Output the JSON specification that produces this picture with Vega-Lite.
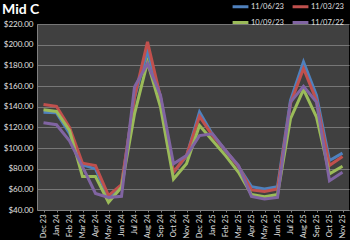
{
  "$schema": "https://vega.github.io/schema/vega-lite/v6.json",
  "width": 312,
  "height": 186,
  "autosize": {"type": "none"},
  "padding": {"left": 37, "top": 24, "right": 1, "bottom": 30},
  "background": "#000000",
  "title": {"text": "Mid C", "anchor": "start", "frame": "group", "dx": -35, "offset": 0, "dy": 20, "color": "#ffffff", "fontSize": 14, "font": "Lato", "fontWeight": "bold"},
  "config": {
    "view": {"fill": "#404040", "stroke": null},
    "font": "Lato"
  },
  "datasets": {
    "prices": [
      {"month": "Dec-23", "series": "11/06/23", "price": 134.5},
      {"month": "Jan-24", "series": "11/06/23", "price": 134},
      {"month": "Feb-24", "series": "11/06/23", "price": 114},
      {"month": "Mar-24", "series": "11/06/23", "price": 83.7},
      {"month": "Apr-24", "series": "11/06/23", "price": 79.8},
      {"month": "May-24", "series": "11/06/23", "price": 52.2},
      {"month": "Jun-24", "series": "11/06/23", "price": 63.6},
      {"month": "Jul-24", "series": "11/06/23", "price": 149},
      {"month": "Aug-24", "series": "11/06/23", "price": 194},
      {"month": "Sep-24", "series": "11/06/23", "price": 149},
      {"month": "Oct-24", "series": "11/06/23", "price": 76.5},
      {"month": "Nov-24", "series": "11/06/23", "price": 92},
      {"month": "Dec-24", "series": "11/06/23", "price": 134.8},
      {"month": "Jan-25", "series": "11/06/23", "price": 113},
      {"month": "Feb-25", "series": "11/06/23", "price": 97.6},
      {"month": "Mar-25", "series": "11/06/23", "price": 82},
      {"month": "Apr-25", "series": "11/06/23", "price": 62.6},
      {"month": "May-25", "series": "11/06/23", "price": 60.3},
      {"month": "Jun-25", "series": "11/06/23", "price": 62.6},
      {"month": "Jul-25", "series": "11/06/23", "price": 146},
      {"month": "Aug-25", "series": "11/06/23", "price": 183.3},
      {"month": "Sep-25", "series": "11/06/23", "price": 151},
      {"month": "Oct-25", "series": "11/06/23", "price": 87.9},
      {"month": "Nov-25", "series": "11/06/23", "price": 95},
      {"month": "Dec-23", "series": "11/03/23", "price": 142.2},
      {"month": "Jan-24", "series": "11/03/23", "price": 140.3},
      {"month": "Feb-24", "series": "11/03/23", "price": 120},
      {"month": "Mar-24", "series": "11/03/23", "price": 85.2},
      {"month": "Apr-24", "series": "11/03/23", "price": 83},
      {"month": "May-24", "series": "11/03/23", "price": 53.9},
      {"month": "Jun-24", "series": "11/03/23", "price": 64.6},
      {"month": "Jul-24", "series": "11/03/23", "price": 149.4},
      {"month": "Aug-24", "series": "11/03/23", "price": 202.7},
      {"month": "Sep-24", "series": "11/03/23", "price": 149},
      {"month": "Oct-24", "series": "11/03/23", "price": 76.5},
      {"month": "Nov-24", "series": "11/03/23", "price": 92.7},
      {"month": "Dec-24", "series": "11/03/23", "price": 130.6},
      {"month": "Jan-25", "series": "11/03/23", "price": 112},
      {"month": "Feb-25", "series": "11/03/23", "price": 97.6},
      {"month": "Mar-25", "series": "11/03/23", "price": 82},
      {"month": "Apr-25", "series": "11/03/23", "price": 59.4},
      {"month": "May-25", "series": "11/03/23", "price": 58},
      {"month": "Jun-25", "series": "11/03/23", "price": 60.3},
      {"month": "Jul-25", "series": "11/03/23", "price": 143},
      {"month": "Aug-25", "series": "11/03/23", "price": 176.9},
      {"month": "Sep-25", "series": "11/03/23", "price": 146},
      {"month": "Oct-25", "series": "11/03/23", "price": 83},
      {"month": "Nov-25", "series": "11/03/23", "price": 91.7},
      {"month": "Dec-23", "series": "10/09/23", "price": 137},
      {"month": "Jan-24", "series": "10/09/23", "price": 135.4},
      {"month": "Feb-24", "series": "10/09/23", "price": 117},
      {"month": "Mar-24", "series": "10/09/23", "price": 72.3},
      {"month": "Apr-24", "series": "10/09/23", "price": 72.3},
      {"month": "May-24", "series": "10/09/23", "price": 47.4},
      {"month": "Jun-24", "series": "10/09/23", "price": 62},
      {"month": "Jul-24", "series": "10/09/23", "price": 133},
      {"month": "Aug-24", "series": "10/09/23", "price": 183},
      {"month": "Sep-24", "series": "10/09/23", "price": 139.6},
      {"month": "Oct-24", "series": "10/09/23", "price": 70},
      {"month": "Nov-24", "series": "10/09/23", "price": 84.7},
      {"month": "Dec-24", "series": "10/09/23", "price": 121.8},
      {"month": "Jan-25", "series": "10/09/23", "price": 107.3},
      {"month": "Feb-25", "series": "10/09/23", "price": 92.6},
      {"month": "Mar-25", "series": "10/09/23", "price": 76.5},
      {"month": "Apr-25", "series": "10/09/23", "price": 54.9},
      {"month": "May-25", "series": "10/09/23", "price": 52.9},
      {"month": "Jun-25", "series": "10/09/23", "price": 54.9},
      {"month": "Jul-25", "series": "10/09/23", "price": 128.3},
      {"month": "Aug-25", "series": "10/09/23", "price": 156.5},
      {"month": "Sep-25", "series": "10/09/23", "price": 129.9},
      {"month": "Oct-25", "series": "10/09/23", "price": 75},
      {"month": "Nov-25", "series": "10/09/23", "price": 82.3},
      {"month": "Dec-23", "series": "11/07/22", "price": 124.5},
      {"month": "Jan-24", "series": "11/07/22", "price": 122.5},
      {"month": "Feb-24", "series": "11/07/22", "price": 107},
      {"month": "Mar-24", "series": "11/07/22", "price": 82},
      {"month": "Apr-24", "series": "11/07/22", "price": 56},
      {"month": "May-24", "series": "11/07/22", "price": 52.2},
      {"month": "Jun-24", "series": "11/07/22", "price": 53.2},
      {"month": "Jul-24", "series": "11/07/22", "price": 159},
      {"month": "Aug-24", "series": "11/07/22", "price": 181.7},
      {"month": "Sep-24", "series": "11/07/22", "price": 151},
      {"month": "Oct-24", "series": "11/07/22", "price": 84.7},
      {"month": "Nov-24", "series": "11/07/22", "price": 92.7},
      {"month": "Dec-24", "series": "11/07/22", "price": 112},
      {"month": "Jan-25", "series": "11/07/22", "price": 113.8},
      {"month": "Feb-25", "series": "11/07/22", "price": 97.6},
      {"month": "Mar-25", "series": "11/07/22", "price": 83},
      {"month": "Apr-25", "series": "11/07/22", "price": 53.2},
      {"month": "May-25", "series": "11/07/22", "price": 50.7},
      {"month": "Jun-25", "series": "11/07/22", "price": 52.2},
      {"month": "Jul-25", "series": "11/07/22", "price": 144.5},
      {"month": "Aug-25", "series": "11/07/22", "price": 159.7},
      {"month": "Sep-25", "series": "11/07/22", "price": 144.5},
      {"month": "Oct-25", "series": "11/07/22", "price": 68.4},
      {"month": "Nov-25", "series": "11/07/22", "price": 76.5}
    ]
  },
  "data": {"name": "prices"},
  "mark": {"type": "line", "strokeWidth": 3, "strokeJoin": "miter"},
  "encoding": {
    "x": {
      "field": "month", "type": "ordinal", "sort": null,
      "scale": {"type": "point", "padding": 0.5},
      "axis": {
        "title": null, "labelAngle": -90, "labelColor": "#e0e0e0", "labelFontSize": 7.5,
        "labelPadding": 2, "domainColor": "#808080", "tickColor": "#808080", "tickSize": 2,
        "labelExpr": "replace(datum.label, '-', ' ')"
      }
    },
    "y": {
      "field": "price", "type": "quantitative",
      "scale": {"domain": [40, 220], "nice": false, "zero": false},
      "axis": {
        "title": null, "values": [40, 60, 80, 100, 120, 140, 160, 180, 200, 220],
        "format": "$,.2f", "labelColor": "#e0e0e0", "labelFontSize": 8,
        "gridColor": "#777777", "gridWidth": 1, "domainColor": "#808080", "ticks": false, "labelPadding": 4
      }
    },
    "color": {
      "field": "series", "type": "nominal",
      "scale": {"domain": ["11/06/23", "11/03/23", "10/09/23", "11/07/22"], "range": ["#4F81BD", "#C0504D", "#9BBB59", "#8064A2"]},
      "legend": {
        "title": null, "orient": "none", "legendX": 194, "legendY": -27, "columns": 2, "direction": "horizontal",
        "symbolType": "stroke", "symbolSize": 250, "symbolStrokeWidth": 3, "labelColor": "#e0e0e0", "labelFontSize": 7.5,
        "columnPadding": 2, "rowPadding": -8, "labelOffset": 1, "labelLimit": 40, "padding": 0
      }
    }
  }
}
